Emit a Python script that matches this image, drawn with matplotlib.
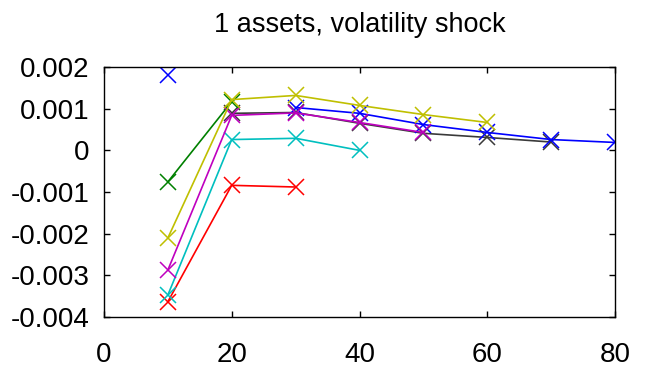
import numpy as np
import matplotlib
matplotlib.use("Agg")
import matplotlib.pyplot as plt

# x positions shared by every series
x = [10, 20, 30, 40, 50, 60, 70, 80]
nan = np.nan

# one series per colour (nan = no point)
blue    = [0.00180, nan, 0.00103, 0.00089, 0.00062, 0.00043, 0.00026, 0.00019]
green   = [-0.00076, 0.00117, nan, nan, nan, nan, nan, nan]
red     = [-0.00364, -0.00084, -0.00088, nan, nan, nan, nan, nan]
cyan    = [-0.00348, 0.00026, 0.00029, 0.00000, nan, nan, nan, nan]
magenta = [-0.00288, 0.00084, 0.00090, 0.00067, 0.00043, nan, nan, nan]
yellow  = [-0.00211, 0.00122, 0.00132, 0.00108, 0.00086, 0.00067, nan, nan]
black   = [nan, 0.00089, 0.00091, 0.00065, 0.00041, 0.00031, 0.00020, nan]

xticks = [0, 20, 40, 60, 80]
yticks = [-0.004, -0.003, -0.002, -0.001, 0, 0.001, 0.002]
ytick_labels = ["-0.004", "-0.003", "-0.002", "-0.001", "0", "0.001", "0.002"]

plt.rcParams['font.family'] = ['Liberation Sans', 'DejaVu Sans']

fig = plt.figure(figsize=(6.49, 3.75), dpi=100)
ax = fig.add_axes([0.160, 0.155, 0.788, 0.666])

# black goes underneath so the magenta crosses stay visible
series = [(black, '#3a3a3a'), (blue, '#0000ff'), (green, '#008000'),
          (red, '#ff0000'), (cyan, '#00bfbf'), (magenta, '#bf00bf'),
          (yellow, '#bfbf00')]
for ys, c in series:
    ax.plot(x, ys, color=c, marker='x', markersize=12, markeredgewidth=1.1,
            linewidth=1.2)

ax.set_xlim(0, 80)
ax.set_ylim(-0.004, 0.002)
ax.set_xticks(xticks)
ax.set_yticks(yticks)
ax.set_yticklabels(ytick_labels)
ax.tick_params(direction='in', top=True, right=True, length=4, width=1,
               labelsize=20)
ax.tick_params(axis='x', pad=18)
ax.tick_params(axis='y', pad=10.5)
for s in ax.spines.values():
    s.set_linewidth(1.0)

ax.set_title("1 assets, volatility shock", fontsize=19.5, pad=25)

fig.savefig("out.png", dpi=100)
